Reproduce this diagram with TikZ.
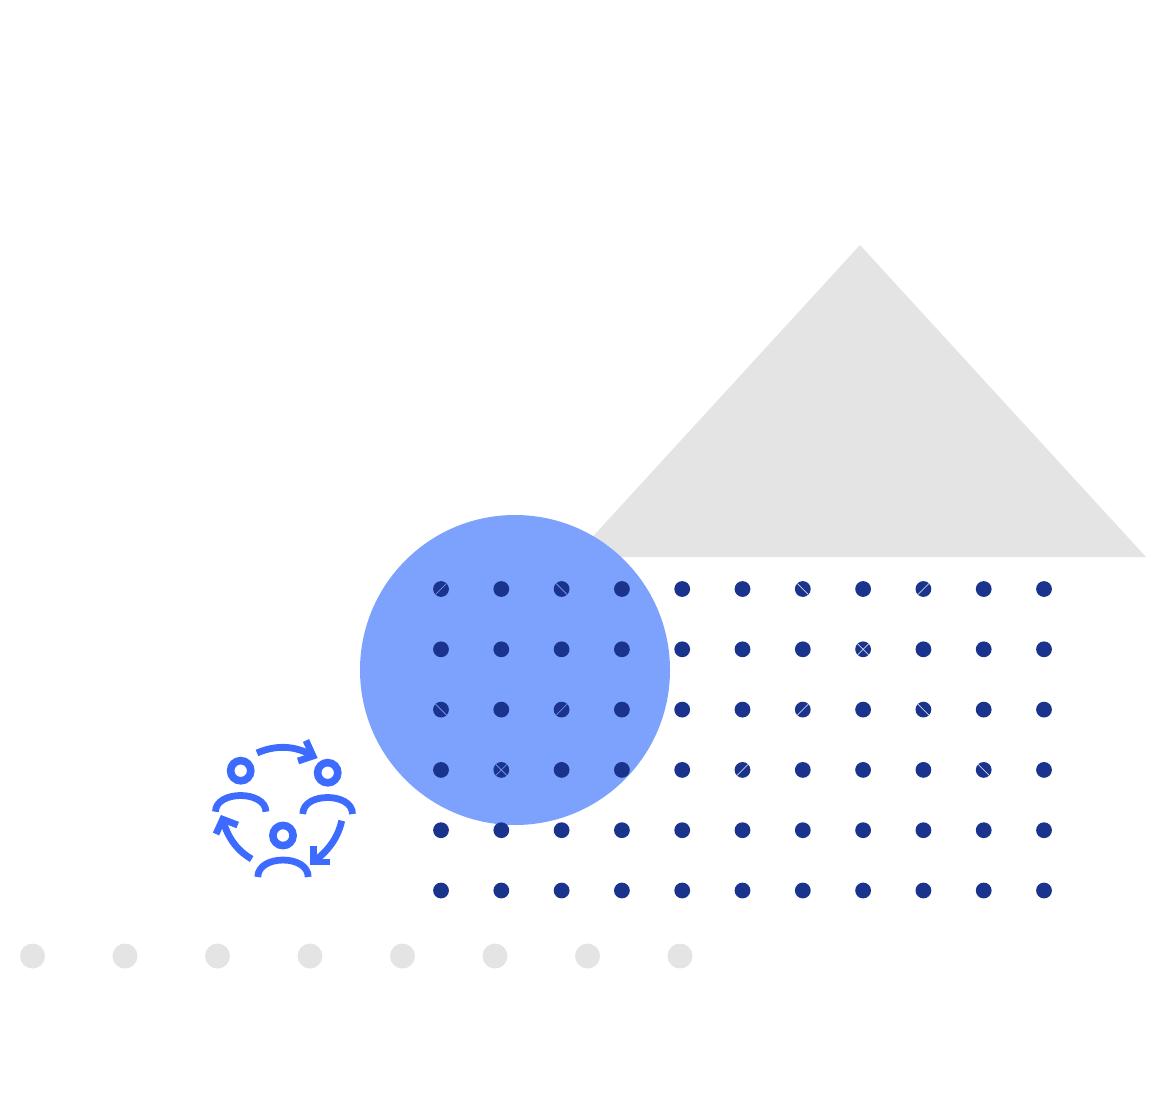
\documentclass[tikz,border=0pt]{standalone}
\usepackage{color}
\usetikzlibrary{calc}
\pgfdeclarelayer{bg}
\pgfsetlayers{bg,main}
\definecolor{dotblue}{HTML}{1A348E}
\definecolor{spotblue}{HTML}{7DA2FD}
\definecolor{iconblue}{HTML}{3D6BFF}
\definecolor{palegray}{HTML}{E4E4E4}
\tikzset{
  griddot/.style={circle,fill=dotblue,inner sep=0pt,minimum size=15.8pt},
  graydot/.style={circle,fill=palegray,inner sep=0pt,minimum size=25pt},
  head/.style={circle,draw=iconblue,line width=7.6pt,inner sep=0pt,minimum size=20.2pt},
  iconline/.style={draw=iconblue,line width=6.8pt},
  dotcut/.style={draw=#1,line width=0.6pt}
}
\begin{document}
\begin{tikzpicture}[x=1pt,y=-1pt]
    \useasboundingbox (0,0) rectangle (1166,1119);
    \begin{pgfonlayer}{bg}    % select the background layer
        \fill [palegray] (860,245) -- (1146,557) -- (574,557) -- cycle;
    \end{pgfonlayer}
    \node [circle,fill=spotblue,inner sep=0pt,minimum size=310pt] (spot) at (515,670) {};

    \foreach \col in {0,...,10}
      \foreach \row in {0,...,5}
        \node [griddot] (d\col-\row) at ({441+60.3*\col},{589+60.3*\row}) {};

    % thin cuts in some of the dots
    \foreach \col/\row/\ang/\tone in {0/0/-45/spotblue,2/0/45/spotblue,6/0/45/white,8/0/-45/white,
        7/1/45/white,7/1/-45/white,0/2/45/spotblue,2/2/-45/spotblue,6/2/-45/white,8/2/45/white,
        1/3/45/spotblue,1/3/-45/spotblue,5/3/-45/white,9/3/45/white}
      \draw [dotcut=\tone] ($(d\col-\row)+(\ang:7.8)$) -- ($(d\col-\row)+(\ang+180:7.8)$);

    \foreach \i in {0,...,7}
      \node [graydot] (g\i) at ({32.5+92.5*\i},956) {};

    \node [head] (head1) at (240.7,770.7) {};
    \node [head] (head2) at (327.7,772.7) {};
    \node [head] (head3) at (283,835.5) {};

    \draw [iconline] (215.5,811.7) .. controls (215.5,801) and (228,795.5) .. (240.7,795.5) .. controls (253,795.5) and (265.9,801) .. (265.9,811.7);
    \draw [iconline] (302.8,814) .. controls (302.8,803) and (315,797.5) .. (327.7,797.5) .. controls (340,797.5) and (352.5,803) .. (352.5,814);
    \draw [iconline] (257.8,877) .. controls (257.8,866) and (270,860) .. (283,860) .. controls (296,860) and (308.2,866) .. (308.2,877);

    \draw [iconline] (257,753) .. controls (275,745) and (295,745) .. (313,756);
    \draw [iconline] (306,740.5) -- (313,756) -- (298,761);
    \draw [iconline] (341.7,820.7) .. controls (338,838) and (328,851) .. (313.3,862);
    \draw [iconline] (313.3,845.7) -- (313.3,862) -- (330,862);
    \draw [iconline] (251.7,859) .. controls (236,850) and (227,836) .. (222.7,819.3);
    \draw [iconline] (216,834) -- (222.7,819.3) -- (237.7,825);
\end{tikzpicture}
\end{document}
